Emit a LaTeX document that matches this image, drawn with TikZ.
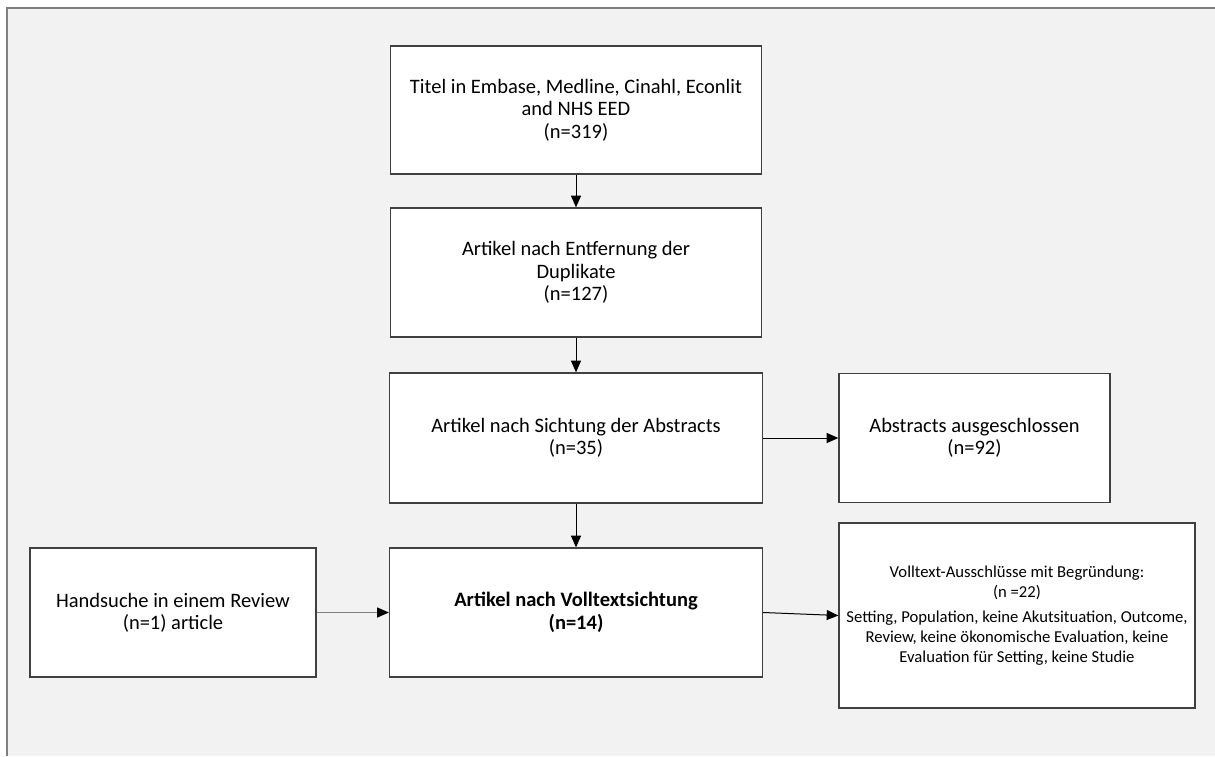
\documentclass[tikz,border=0pt]{standalone}
\usepackage{fontspec}
\setmainfont{Carlito}
\usetikzlibrary{arrows.meta}
\definecolor{bggray}{HTML}{F2F2F2}
\definecolor{framegray}{HTML}{7F7F7F}
\definecolor{boxline}{HTML}{404040}

\begin{document}
\begin{tikzpicture}[x=0.6pt, y=-0.6pt,
    box/.style = {draw=boxline, line width=0.8pt, fill=white, inner sep=0pt, align=center,
                  font=\fontsize{12.3}{13.4}\selectfont},
    arr/.style = {-{Triangle[length=7pt,width=6pt,color=black]}, line width=0.6pt}]
    \useasboundingbox (0,0) rectangle (1215,756);
    \fill[bggray] (7,8) rectangle (1215,756);
    \draw[framegray, line width=1.2pt] (7,756) -- (7,8) -- (1215,8);

    \node[box, minimum width=222.6pt, minimum height=76.8pt] (titel) at (576,110)
        {Titel in Embase, Medline, Cinahl, Econlit\\and NHS EED\\(n=319)};
    \node[box, minimum width=222.6pt, minimum height=77.4pt] (dupl) at (576,272.5)
        {Artikel nach Entfernung der\\Duplikate\\(n=127)};
    \node[box, minimum width=223.8pt, minimum height=78pt] (abstr) at (576,438)
        {Artikel nach Sichtung der Abstracts\\(n=35)};
    \node[box, minimum width=162.6pt, minimum height=77.4pt] (ausg) at (974.5,438)
        {Abstracts ausgeschlossen\\(n=92)};
    \node[box, minimum width=223.8pt, minimum height=77.4pt, font=\fontsize{12.3}{13.4}\selectfont\bfseries] (voll) at (576,612.5)
        {Artikel nach Volltextsichtung\\(n=14)};
    \node[box, minimum width=171.6pt, minimum height=77.4pt] (hand) at (173,612.5)
        {Handsuche in einem Review\\(n=1) article};
    \node[box, minimum width=213.6pt, minimum height=111pt, font=\fontsize{10}{12}\selectfont] (grund) at (1017,615.5)
        {Volltext-Ausschlüsse mit Begründung:\\(n =22)\\[3pt]Setting, Population, keine Akutsituation, Outcome,\\Review, keine ökonomische Evaluation, keine\\Evaluation für Setting, keine Studie};

    \draw[arr] (titel) -- (dupl);
    \draw[arr] (dupl) -- (abstr);
    \draw[arr] (abstr) -- (voll);
    \draw[arr] (abstr) -- (ausg);
    \draw[arr, draw=framegray] (hand) -- (voll);
    \draw[arr] (voll.east) -- (grund.west);

\end{tikzpicture}
\end{document}
